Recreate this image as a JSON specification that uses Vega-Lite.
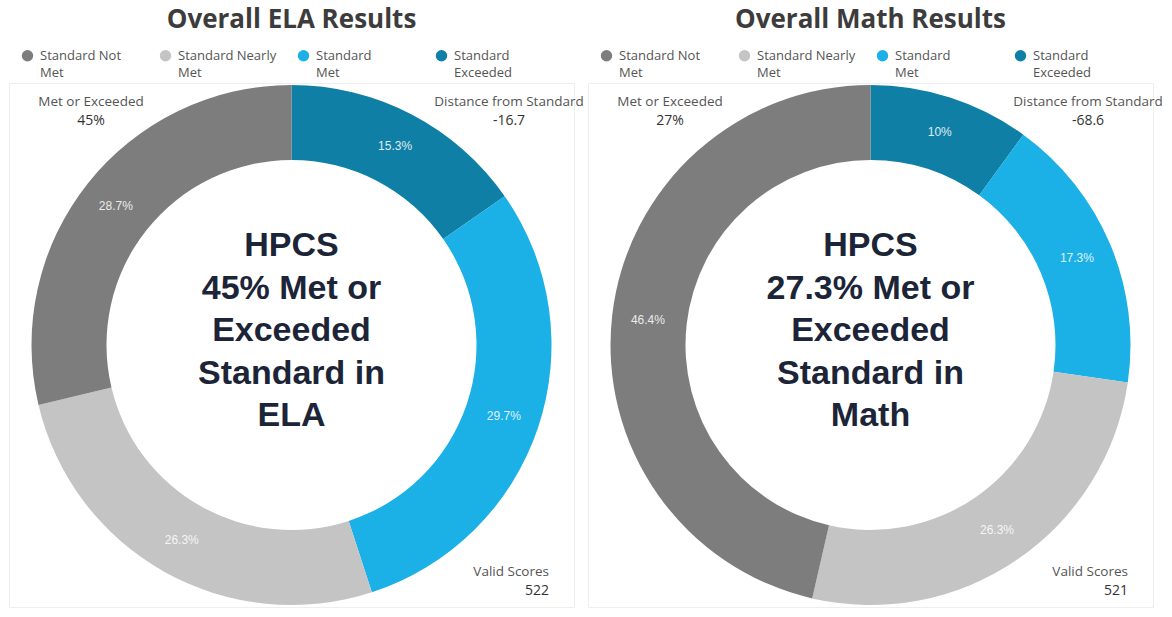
{
  "$schema": "https://vega.github.io/schema/vega-lite/v6.json",
  "padding": {"left": 8, "top": 6, "right": 0, "bottom": 0},
  "background": "white",
  "spacing": 2,
  "config": {
    "font": "Open Sans",
    "view": {"stroke": "#eeeeee", "strokeWidth": 1},
    "style": {"guide-label": {"lineHeight": 17}},
    "title": {"fontSize": 26, "fontWeight": "bold", "color": "#3c3c3c", "anchor": "middle", "offset": 0, "font": "Open Sans"},
    "legend": {"orient": "top", "title": null, "symbolType": "circle", "symbolSize": 130, "labelFontSize": 13, "labelColor": "#555555", "labelFont": "Open Sans", "columns": 4, "gridAlign": "all", "columnPadding": 20, "labelOffset": 6, "offset": -9, "padding": 12, "labelLimit": 200}
  },
  "datasets": {
    "results": [
      {"subject": "ELA", "level": "Standard Exceeded", "rank": 1, "pct": 0.153},
      {"subject": "ELA", "level": "Standard Met", "rank": 2, "pct": 0.297},
      {"subject": "ELA", "level": "Standard Nearly Met", "rank": 3, "pct": 0.263},
      {"subject": "ELA", "level": "Standard Not Met", "rank": 4, "pct": 0.287},
      {"subject": "Math", "level": "Standard Exceeded", "rank": 1, "pct": 0.10},
      {"subject": "Math", "level": "Standard Met", "rank": 2, "pct": 0.173},
      {"subject": "Math", "level": "Standard Nearly Met", "rank": 3, "pct": 0.263},
      {"subject": "Math", "level": "Standard Not Met", "rank": 4, "pct": 0.464}
    ],
    "centers": [
      {"subject": "ELA", "line": "HPCS\n45% Met or\nExceeded\nStandard in\nELA"},
      {"subject": "Math", "line": "HPCS\n27.3% Met or\nExceeded\nStandard in\nMath"}
    ],
    "stats": [
      {"subject": "ELA", "corner": "tl", "row": "top", "label": "Met or Exceeded", "value": "45%"},
      {"subject": "ELA", "corner": "tr", "row": "top", "label": "Distance from Standard", "value": "-16.7"},
      {"subject": "ELA", "corner": "br", "row": "bottom", "label": "Valid Scores", "value": "522"},
      {"subject": "Math", "corner": "tl", "row": "top", "label": "Met or Exceeded", "value": "27%"},
      {"subject": "Math", "corner": "tr", "row": "top", "label": "Distance from Standard", "value": "-68.6"},
      {"subject": "Math", "corner": "br", "row": "bottom", "label": "Valid Scores", "value": "521"}
    ]
  },
  "resolve": {"scale": {"color": "independent", "theta": "independent"}, "legend": {"color": "independent"}},
  "hconcat": [
    {
      "width": 565, "height": 524,
      "title": "Overall ELA Results",
      "resolve": {"scale": {"x": "independent"}},
      "layer": [
        {
          "data": {"name": "results"},
          "transform": [{"filter": "datum.subject === 'ELA'"}],
          "mark": {"type": "arc", "innerRadius": 185, "outerRadius": 260},
          "encoding": {
            "theta": {"field": "pct", "type": "quantitative", "stack": true},
            "order": {"field": "rank", "type": "quantitative"},
            "color": {"field": "level", "type": "nominal",
              "scale": {"domain": ["Standard Not Met", "Standard Nearly Met", "Standard Met", "Standard Exceeded"], "range": ["#7d7d7d", "#c4c4c4", "#1bb0e6", "#0f7fa6"]},
              "legend": {"labelExpr": "[slice(datum.label, 0, lastindexof(datum.label, ' ')), slice(datum.label, lastindexof(datum.label, ' ') + 1)]"}}
          }
        },
        {
          "data": {"name": "results"},
          "transform": [{"filter": "datum.subject === 'ELA'"}],
          "mark": {"type": "text", "radius": 224, "fill": "white", "opacity": 0.85, "fontSize": 12, "font": "Liberation Sans"},
          "encoding": {
            "theta": {"field": "pct", "type": "quantitative", "stack": true},
            "order": {"field": "rank", "type": "quantitative"},
            "text": {"field": "pct", "type": "quantitative", "format": ".1~%"}
          }
        },
        {
          "data": {"name": "centers"},
          "transform": [{"filter": "datum.subject === 'ELA'"}],
          "mark": {"type": "text", "lineBreak": "\n", "fontSize": 34, "font": "Liberation Sans", "fontWeight": "bold", "fill": "#1c2538", "align": "center", "baseline": "middle", "lineHeight": 42.5, "dy": -99},
          "encoding": {"text": {"field": "line", "type": "nominal"}}
        },
        {
          "data": {"name": "stats"},
          "transform": [{"filter": "datum.subject === 'ELA' && datum.row === 'top'"}],
          "mark": {"type": "text", "fontSize": 13.5, "fill": "#555555", "baseline": "middle", "align": "center", "dy": -9.5},
          "encoding": {
            "x": {"field": "corner", "type": "nominal", "scale": {"type": "point", "domain": ["tl", "tr"], "range": [82, 500], "padding": 0}, "axis": null},
            "y": {"field": "row", "type": "nominal", "scale": {"type": "point", "domain": ["top", "bottom"], "range": [28.5, 498.5], "padding": 0}, "axis": null},
            "text": {"field": "label", "type": "nominal"}
          }
        },
        {
          "data": {"name": "stats"},
          "transform": [{"filter": "datum.subject === 'ELA' && datum.row === 'top'"}],
          "mark": {"type": "text", "fontSize": 14, "fill": "#333333", "baseline": "middle", "align": "center", "dy": 9.5},
          "encoding": {
            "x": {"field": "corner", "type": "nominal", "scale": {"type": "point", "domain": ["tl", "tr"], "range": [82, 500], "padding": 0}, "axis": null},
            "y": {"field": "row", "type": "nominal", "scale": {"type": "point", "domain": ["top", "bottom"], "range": [28.5, 498.5], "padding": 0}, "axis": null},
            "text": {"field": "value", "type": "nominal"}
          }
        },
        {
          "data": {"name": "stats"},
          "transform": [{"filter": "datum.subject === 'ELA' && datum.row === 'bottom'"}],
          "mark": {"type": "text", "fontSize": 13.5, "fill": "#555555", "baseline": "middle", "align": "right", "dy": -9.5},
          "encoding": {
            "x": {"field": "corner", "type": "nominal", "scale": {"type": "point", "domain": ["br"], "range": [540, 540], "padding": 0}, "axis": null},
            "y": {"field": "row", "type": "nominal", "scale": {"type": "point", "domain": ["top", "bottom"], "range": [28.5, 498.5], "padding": 0}, "axis": null},
            "text": {"field": "label", "type": "nominal"}
          }
        },
        {
          "data": {"name": "stats"},
          "transform": [{"filter": "datum.subject === 'ELA' && datum.row === 'bottom'"}],
          "mark": {"type": "text", "fontSize": 14, "fill": "#333333", "baseline": "middle", "align": "right", "dy": 9.5},
          "encoding": {
            "x": {"field": "corner", "type": "nominal", "scale": {"type": "point", "domain": ["br"], "range": [540, 540], "padding": 0}, "axis": null},
            "y": {"field": "row", "type": "nominal", "scale": {"type": "point", "domain": ["top", "bottom"], "range": [28.5, 498.5], "padding": 0}, "axis": null},
            "text": {"field": "value", "type": "nominal"}
          }
        }
      ]
    },
    {
      "width": 565, "height": 524,
      "title": "Overall Math Results",
      "resolve": {"scale": {"x": "independent"}},
      "layer": [
        {
          "data": {"name": "results"},
          "transform": [{"filter": "datum.subject === 'Math'"}],
          "mark": {"type": "arc", "innerRadius": 185, "outerRadius": 260},
          "encoding": {
            "theta": {"field": "pct", "type": "quantitative", "stack": true},
            "order": {"field": "rank", "type": "quantitative"},
            "color": {"field": "level", "type": "nominal",
              "scale": {"domain": ["Standard Not Met", "Standard Nearly Met", "Standard Met", "Standard Exceeded"], "range": ["#7d7d7d", "#c4c4c4", "#1bb0e6", "#0f7fa6"]},
              "legend": {"labelExpr": "[slice(datum.label, 0, lastindexof(datum.label, ' ')), slice(datum.label, lastindexof(datum.label, ' ') + 1)]"}}
          }
        },
        {
          "data": {"name": "results"},
          "transform": [{"filter": "datum.subject === 'Math'"}],
          "mark": {"type": "text", "radius": 224, "fill": "white", "opacity": 0.85, "fontSize": 12, "font": "Liberation Sans"},
          "encoding": {
            "theta": {"field": "pct", "type": "quantitative", "stack": true},
            "order": {"field": "rank", "type": "quantitative"},
            "text": {"field": "pct", "type": "quantitative", "format": ".1~%"}
          }
        },
        {
          "data": {"name": "centers"},
          "transform": [{"filter": "datum.subject === 'Math'"}],
          "mark": {"type": "text", "lineBreak": "\n", "fontSize": 34, "font": "Liberation Sans", "fontWeight": "bold", "fill": "#1c2538", "align": "center", "baseline": "middle", "lineHeight": 42.5, "dy": -99},
          "encoding": {"text": {"field": "line", "type": "nominal"}}
        },
        {
          "data": {"name": "stats"},
          "transform": [{"filter": "datum.subject === 'Math' && datum.row === 'top'"}],
          "mark": {"type": "text", "fontSize": 13.5, "fill": "#555555", "baseline": "middle", "align": "center", "dy": -9.5},
          "encoding": {
            "x": {"field": "corner", "type": "nominal", "scale": {"type": "point", "domain": ["tl", "tr"], "range": [82, 500], "padding": 0}, "axis": null},
            "y": {"field": "row", "type": "nominal", "scale": {"type": "point", "domain": ["top", "bottom"], "range": [28.5, 498.5], "padding": 0}, "axis": null},
            "text": {"field": "label", "type": "nominal"}
          }
        },
        {
          "data": {"name": "stats"},
          "transform": [{"filter": "datum.subject === 'Math' && datum.row === 'top'"}],
          "mark": {"type": "text", "fontSize": 14, "fill": "#333333", "baseline": "middle", "align": "center", "dy": 9.5},
          "encoding": {
            "x": {"field": "corner", "type": "nominal", "scale": {"type": "point", "domain": ["tl", "tr"], "range": [82, 500], "padding": 0}, "axis": null},
            "y": {"field": "row", "type": "nominal", "scale": {"type": "point", "domain": ["top", "bottom"], "range": [28.5, 498.5], "padding": 0}, "axis": null},
            "text": {"field": "value", "type": "nominal"}
          }
        },
        {
          "data": {"name": "stats"},
          "transform": [{"filter": "datum.subject === 'Math' && datum.row === 'bottom'"}],
          "mark": {"type": "text", "fontSize": 13.5, "fill": "#555555", "baseline": "middle", "align": "right", "dy": -9.5},
          "encoding": {
            "x": {"field": "corner", "type": "nominal", "scale": {"type": "point", "domain": ["br"], "range": [540, 540], "padding": 0}, "axis": null},
            "y": {"field": "row", "type": "nominal", "scale": {"type": "point", "domain": ["top", "bottom"], "range": [28.5, 498.5], "padding": 0}, "axis": null},
            "text": {"field": "label", "type": "nominal"}
          }
        },
        {
          "data": {"name": "stats"},
          "transform": [{"filter": "datum.subject === 'Math' && datum.row === 'bottom'"}],
          "mark": {"type": "text", "fontSize": 14, "fill": "#333333", "baseline": "middle", "align": "right", "dy": 9.5},
          "encoding": {
            "x": {"field": "corner", "type": "nominal", "scale": {"type": "point", "domain": ["br"], "range": [540, 540], "padding": 0}, "axis": null},
            "y": {"field": "row", "type": "nominal", "scale": {"type": "point", "domain": ["top", "bottom"], "range": [28.5, 498.5], "padding": 0}, "axis": null},
            "text": {"field": "value", "type": "nominal"}
          }
        }
      ]
    }
  ]
}
